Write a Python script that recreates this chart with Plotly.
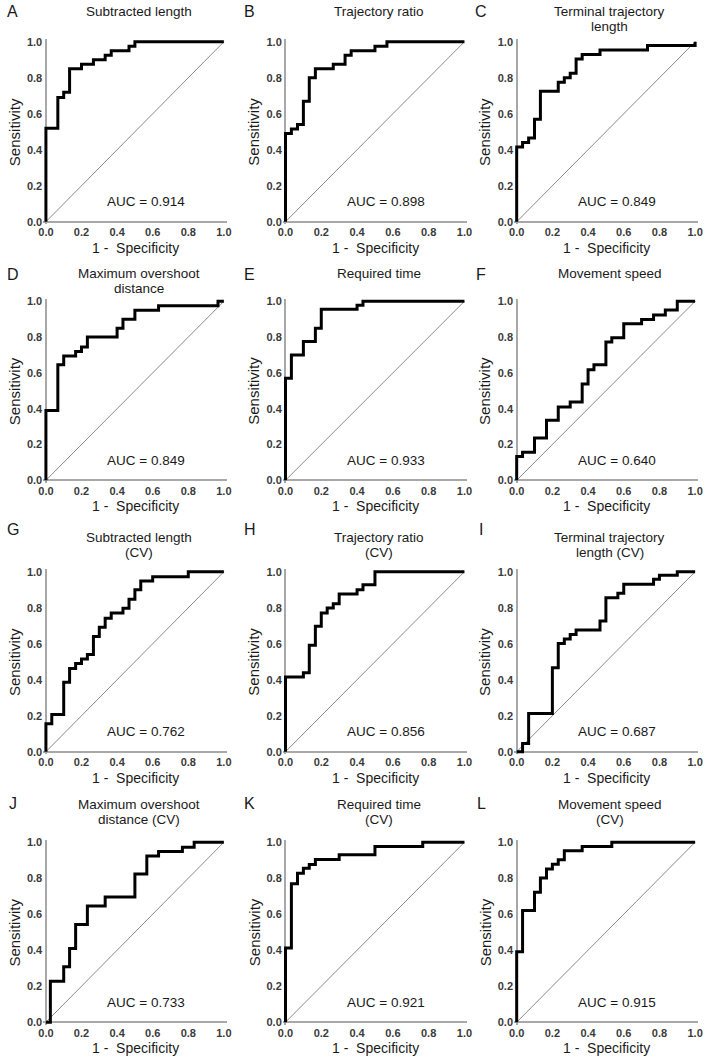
import plotly.graph_objects as go

# ---------------- data ----------------
panel_letters = ["A", "B", "C", "D", "E", "F", "G", "H", "I", "J", "K", "L"]
panel_titles = [
    "Subtracted length", "Trajectory ratio", "Terminal trajectory<br>length",
    "Maximum overshoot<br>distance", "Required time", "Movement speed",
    "Subtracted length<br>(CV)", "Trajectory ratio<br>(CV)", "Terminal trajectory<br>length (CV)",
    "Maximum overshoot<br>distance (CV)", "Required time<br>(CV)", "Movement speed<br>(CV)",
]
auc_values = [0.914, 0.898, 0.849, 0.849, 0.933, 0.640, 0.762, 0.856, 0.687, 0.733, 0.921, 0.915]

tick_vals = [0.0, 0.2, 0.4, 0.6, 0.8, 1.0]
tick_text = ["0.0", "0.2", "0.4", "0.6", "0.8", "1.0"]
x_title = "1 -  Specificity"
y_title = "Sensitivity"

diag_x = [0.0, 1.0]
diag_y = [0.0, 1.0]

# ROC corner points (1 - specificity, sensitivity)
a_fpr = [0, 0, 0.067, 0.1, 0.133, 0.2, 0.267, 0.333, 0.367, 0.467, 0.5, 1.0]
a_tpr = [0, 0.52, 0.69, 0.72, 0.85, 0.875, 0.9, 0.925, 0.95, 0.975, 1.0, 1.0]

b_fpr = [0, 0, 0.033, 0.067, 0.1, 0.133, 0.167, 0.267, 0.333, 0.367, 0.5, 0.567, 1.0]
b_tpr = [0, 0.49, 0.515, 0.54, 0.67, 0.8, 0.85, 0.875, 0.925, 0.95, 0.975, 1.0, 1.0]

c_fpr = [0, 0, 0.033, 0.067, 0.1, 0.133, 0.233, 0.267, 0.3, 0.333, 0.367, 0.467, 0.733, 1.0]
c_tpr = [0, 0.415, 0.44, 0.465, 0.57, 0.725, 0.775, 0.8, 0.825, 0.905, 0.93, 0.955, 0.98, 1.0]

d_fpr = [0, 0, 0.067, 0.1, 0.167, 0.2, 0.233, 0.4, 0.433, 0.5, 0.633, 0.967, 1.0]
d_tpr = [0, 0.39, 0.645, 0.695, 0.72, 0.745, 0.8, 0.85, 0.9, 0.95, 0.975, 1.0, 1.0]

e_fpr = [0, 0, 0.033, 0.1, 0.167, 0.2, 0.4, 0.433, 1.0]
e_tpr = [0, 0.57, 0.7, 0.775, 0.85, 0.955, 0.978, 1.0, 1.0]

f_fpr = [0, 0, 0.033, 0.1, 0.167, 0.233, 0.3, 0.367, 0.4, 0.433, 0.5, 0.533, 0.6, 0.7, 0.767, 0.833, 0.9, 1.0]
f_tpr = [0, 0.133, 0.157, 0.236, 0.335, 0.41, 0.438, 0.538, 0.617, 0.645, 0.773, 0.796, 0.875, 0.899, 0.924, 0.952, 1.0, 1.0]

g_fpr = [0, 0, 0.033, 0.1, 0.133, 0.167, 0.2, 0.233, 0.267, 0.3, 0.333, 0.367, 0.433, 0.467, 0.5, 0.533, 0.6, 0.8, 1.0]
g_tpr = [0, 0.156, 0.207, 0.386, 0.463, 0.491, 0.515, 0.54, 0.641, 0.692, 0.742, 0.771, 0.797, 0.848, 0.9, 0.949, 0.973, 1.0, 1.0]

h_fpr = [0, 0, 0.1, 0.133, 0.167, 0.2, 0.233, 0.267, 0.3, 0.4, 0.433, 0.5, 1.0]
h_tpr = [0, 0.415, 0.439, 0.592, 0.697, 0.771, 0.799, 0.823, 0.876, 0.9, 0.928, 1.0, 1.0]

i_fpr = [0, 0.033, 0.067, 0.2, 0.233, 0.267, 0.3, 0.333, 0.467, 0.5, 0.567, 0.6, 0.767, 0.8, 0.9, 1.0]
i_tpr = [0, 0.046, 0.213, 0.467, 0.602, 0.626, 0.652, 0.676, 0.726, 0.856, 0.88, 0.93, 0.959, 0.981, 1.0, 1.0]

j_fpr = [0, 0.025, 0.1, 0.133, 0.167, 0.233, 0.333, 0.5, 0.567, 0.633, 0.767, 0.833, 1.0]
j_tpr = [0, 0.227, 0.308, 0.409, 0.543, 0.645, 0.696, 0.823, 0.924, 0.948, 0.972, 1.0, 1.0]

k_fpr = [0, 0, 0.033, 0.067, 0.1, 0.133, 0.167, 0.3, 0.5, 0.767, 1.0]
k_tpr = [0, 0.413, 0.769, 0.828, 0.856, 0.876, 0.904, 0.93, 0.976, 1.0, 1.0]

l_fpr = [0, 0, 0.033, 0.1, 0.133, 0.167, 0.2, 0.233, 0.267, 0.367, 0.533, 1.0]
l_tpr = [0, 0.392, 0.62, 0.722, 0.801, 0.851, 0.878, 0.902, 0.952, 0.976, 1.0, 1.0]

roc_fpr = [a_fpr, b_fpr, c_fpr, d_fpr, e_fpr, f_fpr, g_fpr, h_fpr, i_fpr, j_fpr, k_fpr, l_fpr]
roc_tpr = [a_tpr, b_tpr, c_tpr, d_tpr, e_tpr, f_tpr, g_tpr, h_tpr, i_tpr, j_tpr, k_tpr, l_tpr]

# ---------------- layout constants (pixels) ----------------
W, H = 709, 1062
col_px = [(41.5, 222.0), (284.5, 466.0), (519.0, 700.0)]
row_px = [(39.0, 220.0), (300.0, 480.0), (572.0, 753.0), (844.0, 1025.0)]
title_row_y = [9, 272, 538, 806]
letter_row_y = [9, 273, 529, 805]
letter_col_x = [8, 248, 483]
pad = 0.015

FONT = "Arial, Liberation Sans, sans-serif"
AXIS_GRAY = "#a8a8a8"
DIAG_GRAY = "#8a8a8a"
TEXT = "#1a1a1a"

fig = go.Figure()
annotations = []
layout_axes = {}

for i in range(12):
    r, c = divmod(i, 3)
    suffix = "" if i == 0 else str(i + 1)
    xa, ya = "x" + suffix, "y" + suffix
    x0p, x1p = col_px[c]
    ytp, ybp = row_px[r]
    wpx, hpx = x1p - x0p, ybp - ytp

    xdom = [(x0p - pad * wpx) / W, (x1p + pad * wpx) / W]
    ydom = [1 - (ybp + pad * hpx) / H, 1 - (ytp - pad * hpx) / H]

    common = dict(
        range=[-pad, 1 + pad], showgrid=False, zeroline=True,
        zerolinecolor=AXIS_GRAY, zerolinewidth=1.6, showline=False,
        tickmode="array", tickvals=tick_vals, ticktext=tick_text, ticks="",
        tickfont=dict(family=FONT, size=11, color="#3a3a3a", weight="bold"),
        fixedrange=True,
    )
    layout_axes["xaxis" + suffix] = dict(domain=xdom, anchor=ya, **common)
    layout_axes["yaxis" + suffix] = dict(domain=ydom, anchor=xa, **common)

    fig.add_trace(go.Scatter(
        x=diag_x, y=diag_y, mode="lines", xaxis=xa, yaxis=ya,
        line=dict(color=DIAG_GRAY, width=1), hoverinfo="skip", showlegend=False,
    ))
    fig.add_trace(go.Scatter(
        x=roc_fpr[i], y=roc_tpr[i], mode="lines", xaxis=xa, yaxis=ya,
        line=dict(color="black", width=3, shape="hv"), showlegend=False,
    ))

    cx = (x0p + x1p) / 2
    # panel letter
    annotations.append(dict(
        text=panel_letters[i], xref="paper", yref="paper",
        x=letter_col_x[c] / W, y=1 - letter_row_y[r] / H,
        xanchor="center", yanchor="middle", showarrow=False,
        font=dict(family=FONT, size=16, color=TEXT),
    ))
    # title lines
    for k, line in enumerate(panel_titles[i].split("<br>")):
        annotations.append(dict(
            text=line, xref="paper", yref="paper",
            x=(cx + 4) / W, y=1 - (title_row_y[r] + 15 * k) / H,
            xanchor="center", yanchor="middle", showarrow=False,
            font=dict(family=FONT, size=13.5, color=TEXT),
        ))
    # x-axis title
    annotations.append(dict(
        text=x_title, xref="paper", yref="paper",
        x=(cx + 1) / W, y=1 - (ybp + 26) / H,
        xanchor="center", yanchor="middle", showarrow=False,
        font=dict(family=FONT, size=14, color=TEXT),
    ))
    # y-axis title
    annotations.append(dict(
        text=y_title, xref="paper", yref="paper",
        x=(x0p - 32) / W, y=1 - ((ytp + ybp) / 2) / H,
        xanchor="center", yanchor="middle", showarrow=False, textangle=-90,
        font=dict(family=FONT, size=15, color=TEXT),
    ))
    # AUC label
    annotations.append(dict(
        text=f"AUC = {auc_values[i]:.3f}", xref=xa, yref=ya,
        x=0.56, y=0.11, xanchor="center", yanchor="middle", showarrow=False,
        font=dict(family=FONT, size=13.5, color=TEXT),
    ))

fig.update_layout(
    width=W, height=H, margin=dict(l=0, r=0, t=0, b=0),
    paper_bgcolor="white", plot_bgcolor="white",
    annotations=annotations, showlegend=False,
    **layout_axes,
)

fig.write_html("out.html", config={"displayModeBar": False})
